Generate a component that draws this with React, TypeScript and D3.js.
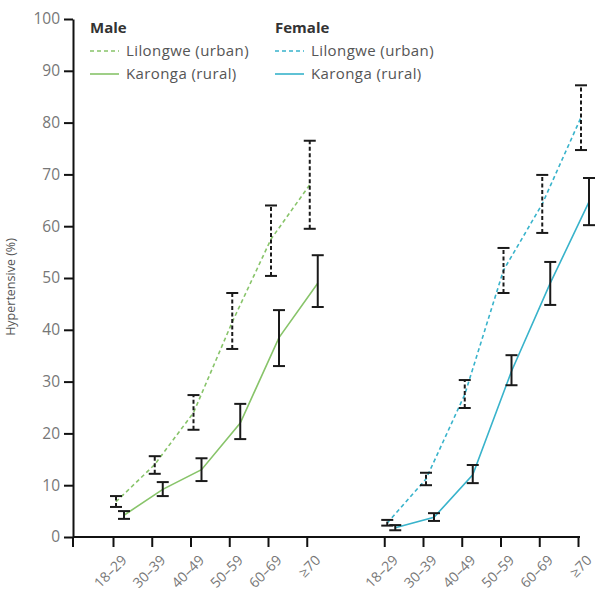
import * as d3 from 'd3';
import React, { useEffect, useRef } from 'react';

const width = 597;
const height = 592;
const margin = { top: 19, bottom: 55, left: 73 };
const green = '#88c46a';
const cyan = '#38b3cb';
const fontFamily = '"Open Sans", "Liberation Sans", sans-serif';

const ageGroups = ['18–29', '30–39', '40–49', '50–59', '60–69', '≥70'];
const yTicks = [0, 10, 20, 30, 40, 50, 60, 70, 80, 90, 100];

// estimates (%) with 95% CI
const maleUrban = [6.8, 14, 24, 41.5, 57.5, 68];
const maleUrbanLo = [5.8, 12.2, 20.7, 36.3, 50.4, 59.5];
const maleUrbanHi = [7.9, 15.6, 27.4, 47.1, 64, 76.5];
const maleRural = [4.2, 9.2, 13, 22, 38.5, 49];
const maleRuralLo = [3.5, 7.9, 10.8, 18.9, 33, 44.4];
const maleRuralHi = [5.0, 10.6, 15.2, 25.7, 43.8, 54.4];
const femaleUrban = [2.7, 11.2, 27.5, 51.5, 64.3, 81];
const femaleUrbanLo = [2.2, 10.0, 24.9, 47.1, 58.7, 74.7];
const femaleUrbanHi = [3.3, 12.4, 30.3, 55.8, 69.9, 87.2];
const femaleRural = [1.8, 3.8, 12, 32, 49, 64.7];
const femaleRuralLo = [1.3, 3.1, 10.4, 29.3, 44.8, 60.2];
const femaleRuralHi = [2.3, 4.6, 13.9, 35.1, 53.1, 69.3];

const slots = [...ageGroups.map(a => 'M' + a), 'gap', ...ageGroups.map(a => 'F' + a)];

type Series = { sex: 'M' | 'F'; urban: boolean; color: string; v: number[]; lo: number[]; hi: number[] };

const series: Series[] = [
  { sex: 'M', urban: true, color: green, v: maleUrban, lo: maleUrbanLo, hi: maleUrbanHi },
  { sex: 'M', urban: false, color: green, v: maleRural, lo: maleRuralLo, hi: maleRuralHi },
  { sex: 'F', urban: true, color: cyan, v: femaleUrban, lo: femaleUrbanLo, hi: femaleUrbanHi },
  { sex: 'F', urban: false, color: cyan, v: femaleRural, lo: femaleRuralLo, hi: femaleRuralHi },
];

const App = () => {
  const xAxisRef = useRef<SVGGElement>(null);
  const yAxisRef = useRef<SVGGElement>(null);

  const xScale = d3.scalePoint<string>().domain(slots).range([113, 578]);
  const yScale = d3.scaleLinear().domain([0, 100]).range([height - margin.bottom, margin.top]);
  const y0 = yScale(0);

  const xOf = (s: Series, i: number) => (xScale(s.sex + ageGroups[i]) as number) + (s.urban ? 3 : 11);

  useEffect(() => {
    const yAxis = d3.axisLeft(yScale).tickValues(yTicks).tickSize(9).tickSizeOuter(0).tickPadding(4);
    const gy = d3.select(yAxisRef.current!).call(yAxis);
    gy.select('.domain').attr('stroke', '#111').attr('stroke-width', 2);
    gy.selectAll('line').attr('stroke', '#111').attr('stroke-width', 2);
    gy.selectAll('text').attr('fill', '#777').attr('font-size', 15.5).attr('font-family', fontFamily);

    const ticks = slots.filter(s => s !== 'gap');
    const xAxis = d3.axisBottom(xScale).tickValues(ticks).tickSize(10).tickSizeOuter(0).tickFormat(d => d.slice(1));
    const gx = d3.select(xAxisRef.current!).call(xAxis);
    gx.select('.domain').remove();
    gx.selectAll('line').attr('stroke', '#111').attr('stroke-width', 2);
    gx.selectAll('text')
      .attr('fill', '#777')
      .attr('font-size', 14)
      .attr('font-family', fontFamily)
      .attr('text-anchor', 'end')
      .attr('dy', 0)
      .attr('transform', 'translate(5,15) rotate(-45)');
  }, []);

  const line = (s: Series) =>
    d3.line<number>().x((_, i) => xOf(s, i)).y(d => yScale(d))(s.v) || '';

  return (
    <svg width={width} height={height} style={{ position: 'absolute', left: 0, top: 0, background: '#fff' }}>
      {series.map((s, k) => (
        <path key={'l' + k} d={line(s)} fill="none" stroke={s.color} strokeWidth={1.6}
          strokeDasharray={s.urban ? '4,3' : undefined} />
      ))}
      {series.map((s, k) => (
        <g key={'e' + k} stroke="#1a1a1a" strokeWidth={2}>
          {s.v.map((_, i) => {
            const x = xOf(s, i);
            return (
              <g key={i}>
                <line x1={x} x2={x} y1={yScale(s.lo[i])} y2={yScale(s.hi[i])} strokeDasharray={s.urban ? '4,2.5' : undefined} />
                <line x1={x - 6} x2={x + 6} y1={yScale(s.lo[i])} y2={yScale(s.lo[i])} />
                <line x1={x - 6} x2={x + 6} y1={yScale(s.hi[i])} y2={yScale(s.hi[i])} />
              </g>
            );
          })}
        </g>
      ))}
      <g ref={yAxisRef} transform={`translate(${margin.left}, 0)`} />
      <g ref={xAxisRef} transform={`translate(0, ${y0})`} />
      <line x1={margin.left} x2={580} y1={y0} y2={y0} stroke="#111" strokeWidth={2} />
      <line x1={margin.left} x2={margin.left} y1={y0} y2={y0 + 10} stroke="#111" strokeWidth={2} />
      <text transform={`translate(15, 287) rotate(-90)`} textAnchor="middle" fontSize={12.5}
        fill="#555" fontFamily={fontFamily}>Hypertensive (%)</text>
      {[{ title: 'Male', x: 90, color: green }, { title: 'Female', x: 275, color: cyan }].map(g => (
        <g key={g.title} fontFamily={fontFamily}>
          <text x={g.x} y={33} fontSize={15} fontWeight="bold" fill="#333">{g.title}</text>
          <line x1={g.x} x2={g.x + 29} y1={51} y2={51} stroke={g.color} strokeWidth={1.6} strokeDasharray="4,3" />
          <text x={g.x + 36} y={56} fontSize={15} letterSpacing={0.4} fill="#555">Lilongwe (urban)</text>
          <line x1={g.x} x2={g.x + 29} y1={74} y2={74} stroke={g.color} strokeWidth={1.6} />
          <text x={g.x + 36} y={79} fontSize={15} letterSpacing={0.4} fill="#555">Karonga (rural)</text>
        </g>
      ))}
    </svg>
  );
};

export default App;
